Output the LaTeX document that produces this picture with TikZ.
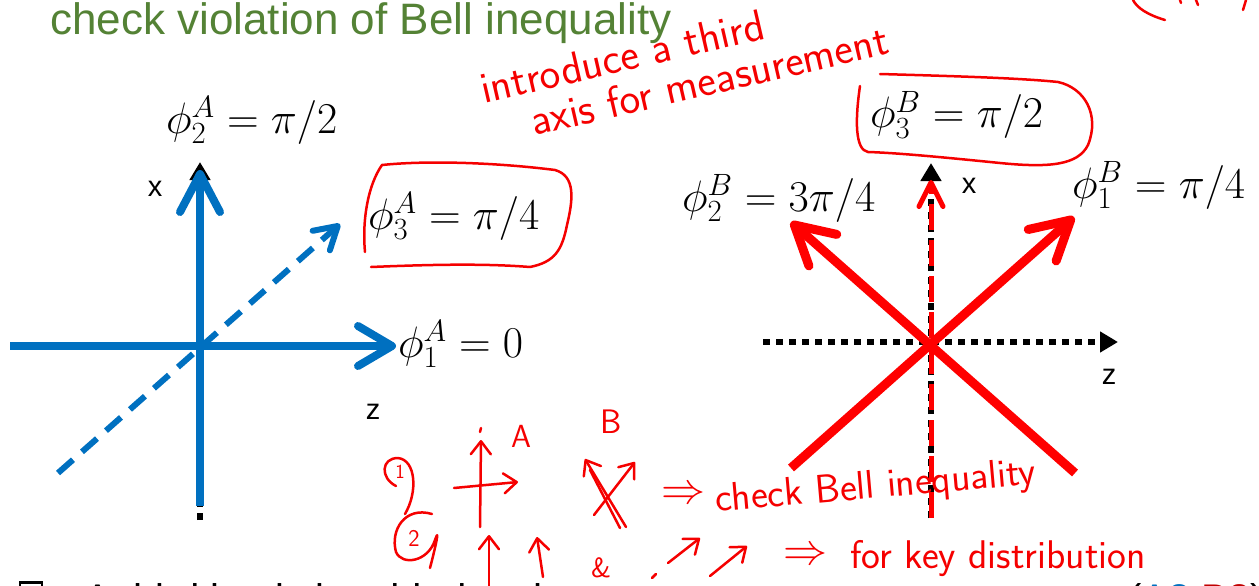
\RequirePackage{fix-cm}
\documentclass[tikz,border=0pt]{standalone}
\usepackage{fontspec}
\newfontfamily\slidefont{Liberation Sans}
\usetikzlibrary{arrows.meta}

\begin{document}
\begin{tikzpicture}[x=1pt, y=-1pt,
    blueaxis/.style={myblue, line width=8pt, -{Straight Barb[length=34pt, width=40pt, round]}},
    redaxis/.style={myred, line width=9pt, -{Straight Barb[length=38pt, width=42pt, round]}},
    dotaxis/.style={black, line width=6pt, dash pattern=on 7pt off 6pt, -{Triangle[length=18pt, width=20pt]}},
    pen/.style={mypen, line width=2.5pt, line cap=round, line join=round},
    penarrow/.style={pen, -{Straight Barb[length=13pt, width=20pt, round]}},
    handtext/.style={mypen, font=\sffamily\fontsize{44}{46}\selectfont, inner sep=0pt},
    mathlabel/.style={font=\fontsize{44}{50}\selectfont, inner sep=0pt, anchor=base west},
    axislabel/.style={font=\slidefont\fontsize{29}{30}\selectfont, inner sep=0pt}]
    \definecolor{mygreen}{RGB}{84,130,53}
    \definecolor{myblue}{RGB}{0,112,192}
    \definecolor{myred}{RGB}{255,0,0}
    \definecolor{mypen}{RGB}{245,0,0}
    \definecolor{mydarkred}{RGB}{192,0,0}

    \useasboundingbox (0,0) rectangle (1259,586);
    \clip (0,0) rectangle (1259,586);

    \node[font=\slidefont\fontsize{44}{48}\selectfont, text=mygreen, anchor=base west, inner sep=0pt] (title) at (50,35) {check violation of Bell inequality};

    % Alice: axes and the three measurement directions
    \coordinate (oA) at (200,346);
    \draw[dotaxis] (200,520) -- (200,162);
    \draw[blueaxis] (10,346) -- (396,346);
    \draw[blueaxis, -{Straight Barb[length=38pt, width=40pt, round]}] (200,506) -- (200,170);
    \draw[myblue, line width=6pt, dash pattern=on 20pt off 12pt, -{Straight Barb[length=22pt, width=26pt, round]}] (58,473) -- (340,224);
    \node[axislabel] (xA) at (155,189) {x};
    \node[axislabel] (zA) at (373,412) {z};
    \node[mathlabel] (phiA2) at (166,133) {$\phi_2^A = \pi/2$};
    \node[mathlabel] (phiA3) at (368,229) {$\phi_3^A = \pi/4$};
    \node[mathlabel] (phiA1) at (398,357) {$\phi_1^A = 0$};

    % Bob: dotted axes and three directions
    \coordinate (oB) at (931,342);
    \draw[dotaxis] (763,342) -- (1118,342);
    \draw[dotaxis] (931,518) -- (931,163);
    \draw[myred, line width=5pt, dash pattern=on 26pt off 10pt, -{Straight Barb[length=24pt, width=24pt, round]}] (931,518) -- (931,180);
    \draw[redaxis] (791,468) -- (1074,217);
    \draw[redaxis] (1075,473) -- (791,222);
    \node[axislabel] (xB) at (969,186) {x};
    \node[axislabel] (zB) at (1109,377) {z};
    \node[mathlabel] (phiB2) at (682,211) {$\phi_2^B = 3\pi/4$};
    \node[mathlabel] (phiB1) at (1072,198) {$\phi_1^B = \pi/4$};
    \node[mathlabel] (phiB3) at (870,128) {$\phi_3^B = \pi/2$};

    % pen notes
    \node[handtext, rotate=13, anchor=base west] (note1) at (484,104) {introduce a third};
    \node[handtext, rotate=13, anchor=base west] (note2) at (534,136) {axis for measurement};
    \draw[pen] (365,252) .. controls (362,220) and (368,185) .. (382,165)
        .. controls (430,160) and (500,163) .. (555,170)
        .. controls (576,176) and (573,200) .. (567,225)
        .. controls (562,250) and (555,262) .. (530,267)
        .. controls (480,263) and (420,265) .. (371,267);
    \draw[pen] (880,74) .. controls (950,76) and (1020,78) .. (1058,82)
        .. controls (1085,88) and (1100,115) .. (1088,145)
        .. controls (1078,165) and (1050,168) .. (1000,163)
        .. controls (950,158) and (900,153) .. (868,152)
        .. controls (855,150) and (855,120) .. (860,86);
    \draw[pen] (1133,0) .. controls (1137,8) and (1148,15) .. (1165,20);
    \draw[pen] (1180,0) -- (1181,3);
    \draw[pen] (1196,0) -- (1198,5);
    \draw[pen] (1246,0) -- (1243,10);

    % case 1
    \draw[pen] (396,486) .. controls (380,478) and (381,458) .. (398,458)
        .. controls (416,460) and (418,492) .. (405,514);
    \node[handtext, font=\sffamily\fontsize{20}{20}\selectfont] (one) at (400,472) {1};
    \draw[penarrow] (480,527) -- (481,440);
    \draw[pen] (480,432) -- (481,428);
    \draw[penarrow] (454,488) -- (518,482);
    \node[handtext, font=\sffamily\fontsize{32}{32}\selectfont] (labA) at (521,436) {A};
    \node[handtext, font=\sffamily\fontsize{34}{34}\selectfont] (labB) at (611,422) {B};
    \draw[penarrow] (626,527) -- (585,459);
    \draw[pen] (620,528) -- (590,470);
    \draw[penarrow] (594,515) -- (635,462);
    \node[handtext, font=\fontsize{44}{44}\selectfont] (impl1) at (683,495) {$\Rightarrow$};
    \node[handtext, font=\sffamily\fontsize{40}{42}\selectfont, rotate=5, anchor=base west] (note3) at (716,512) {check Bell inequality};

    % case 2
    \draw[pen] (432,514) .. controls (405,506) and (390,530) .. (396,552)
        .. controls (402,566) and (428,562) .. (435,540)
        .. controls (440,526) and (436,545) .. (430,568);
    \node[handtext, font=\sffamily\fontsize{24}{24}\selectfont] (two) at (414,538) {2};
    \draw[penarrow] (489,586) -- (489,535);
    \draw[penarrow] (543,577) -- (537,537);
    \node[handtext, font=\sffamily\fontsize{28}{28}\selectfont] (amp) at (601,568) {\&};
    \draw[pen] (652,578) -- (656,574);
    \draw[penarrow] (668,563) -- (700,538);
    \draw[penarrow] (710,576) -- (747,546);
    \node[handtext, font=\fontsize{44}{44}\selectfont] (impl2) at (805,556) {$\Rightarrow$};
    \node[handtext, font=\sffamily\fontsize{40}{42}\selectfont, anchor=base west] (note4) at (850,568) {for key distribution};

    % next bullet, cut by the page
    \draw[black, line width=1.5pt] (20,582) rectangle (42,602);
    \draw[black, line width=3pt] (20,582) -- (42,582);
    \node[font=\slidefont\fontsize{40}{44}\selectfont, anchor=base west, inner sep=0pt] (bullet) at (84,612) {A third basis is added to the measurement};
    \node[font=\slidefont\fontsize{40}{44}\selectfont, anchor=base west, inner sep=0pt] (pair) at (1128,612) {(\textcolor{myblue}{A3},\textcolor{mydarkred}{B3})};
\end{tikzpicture}
\end{document}
